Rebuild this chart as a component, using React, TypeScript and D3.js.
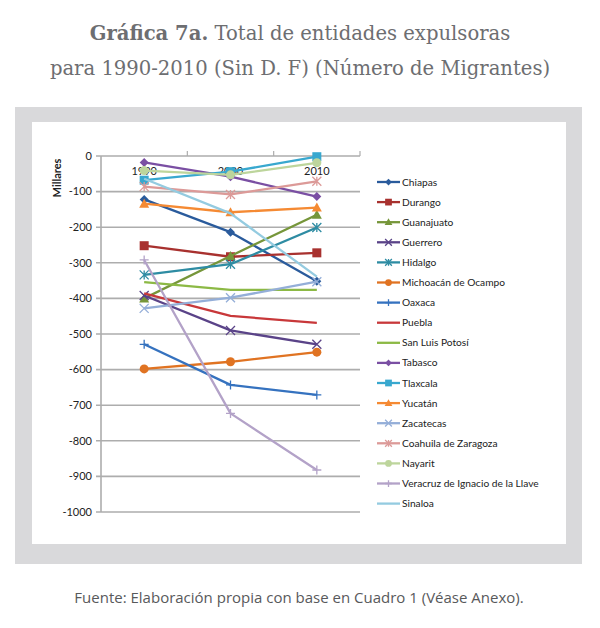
import React from "react";
import * as d3 from "d3";

const categories = ["1990", "2000", "2010"];
const yTicks = [0, -100, -200, -300, -400, -500, -600, -700, -800, -900, -1000];

const seriesNames = [
  "Chiapas", "Durango", "Guanajuato", "Guerrero", "Hidalgo", "Michoacán de Ocampo",
  "Oaxaca", "Puebla", "San Luis Potosí", "Tabasco", "Tlaxcala", "Yucatán",
  "Zacatecas", "Coahuila de Zaragoza", "Nayarit", "Veracruz de Ignacio de la Llave", "Sinaloa",
];

const chiapas = [-122, -214, -352];
const durango = [-252, -283, -272];
const guanajuato = [-400, -281, -165];
const guerrero = [-392, -490, -529];
const hidalgo = [-334, -304, -201];
const michoacan = [-598, -578, -551];
const oaxaca = [-529, -643, -671];
const puebla = [-386, -449, -469];
const sanLuis = [-354, -376, -376];
const tabasco = [-18, -58, -114];
const tlaxcala = [-68, -44, -2];
const yucatan = [-134, -158, -145];
const zacatecas = [-428, -398, -353];
const coahuila = [-86, -108, -71];
const nayarit = [-41, -53, -19];
const veracruz = [-292, -723, -882];
const sinaloa = [-64, -161, -339];

const seriesValues = [
  chiapas, durango, guanajuato, guerrero, hidalgo, michoacan, oaxaca, puebla, sanLuis,
  tabasco, tlaxcala, yucatan, zacatecas, coahuila, nayarit, veracruz, sinaloa,
];

const seriesColors = [
  "#2a5b9c", "#a8312f", "#76963a", "#5a4388", "#2e8ca3", "#e07322", "#3572bf", "#c8383a",
  "#8cb945", "#7a4fa3", "#38a8cf", "#f58a33", "#94aed8", "#dc9a98", "#bdd59c", "#b3a2c8", "#94cbe0",
];

const seriesMarkers = [
  "diamond", "square", "triangle", "x", "star", "circle", "plus", "none", "none",
  "diamond", "square", "triangle", "x", "star", "circle", "plus", "none",
];

function Marker({ type, x, y, color, s = 1 }: { type: string; x: number; y: number; color: string; s?: number }) {
  const r = 4.5 * s;
  switch (type) {
    case "diamond":
      return <path d={`M${x},${y - r}L${x + r},${y}L${x},${y + r}L${x - r},${y}Z`} fill={color} />;
    case "square":
      return <rect x={x - r} y={y - r} width={2 * r} height={2 * r} fill={color} />;
    case "triangle":
      return <path d={`M${x},${y - r - 0.5}L${x + r + 0.5},${y + r - 0.5}L${x - r - 0.5},${y + r - 0.5}Z`} fill={color} />;
    case "circle":
      return <circle cx={x} cy={y} r={r} fill={color} />;
    case "x":
      return (
        <path d={`M${x - r},${y - r}L${x + r},${y + r}M${x - r},${y + r}L${x + r},${y - r}`} stroke={color} strokeWidth={1.3} fill="none" />
      );
    case "star":
      return (
        <path
          d={`M${x - r},${y - r}L${x + r},${y + r}M${x - r},${y + r}L${x + r},${y - r}M${x},${y - r}L${x},${y + r}`}
          stroke={color}
          strokeWidth={1.3}
          fill="none"
        />
      );
    case "plus":
      return (
        <path d={`M${x - r},${y}L${x + r},${y}M${x},${y - r}L${x},${y + r}`} stroke={color} strokeWidth={1.3} fill="none" />
      );
    default:
      return null;
  }
}

export default function App() {
  const W = 600;
  const H = 628;
  const x = d3.scaleBand<string>().domain(categories).range([101, 360]);
  const y = d3.scaleLinear().domain([-1000, 0]).range([512, 156]);
  const cx = (c: string) => (x(c) as number) + x.bandwidth() / 2;
  const line = d3
    .line<number>()
    .x((_, i) => cx(categories[i]))
    .y((d) => y(d));

  const chartFont = "Lato, 'Open Sans', sans-serif";
  const gridColor = "#adadad";
  const titleFont = "'DejaVu Serif', 'Liberation Serif', serif";

  return (
    <svg width={W} height={H} style={{ position: "absolute", left: 0, top: 0, background: "#fff" }}>
      {/* Title */}
      <text x={300} y={40} textAnchor="middle" fontFamily={titleFont} fontSize={19.6} fill="#6d6e71">
        <tspan fontWeight="bold">Gráfica 7a.</tspan> Total de entidades expulsoras
      </text>
      <text x={300} y={75} textAnchor="middle" fontFamily={titleFont} fontSize={19.6} fill="#6d6e71">
        para 1990-2010 (Sin D. F) (Número de Migrantes)
      </text>

      {/* Frame */}
      <rect x={15} y={107} width={567} height={457} fill="#d9d9db" />
      <rect x={32} y={122} width={534} height={422} fill="#ffffff" />

      {/* Grid */}
      {yTicks.map((t) => (
        <g key={t}>
          <line x1={96} x2={360} y1={y(t)} y2={y(t)} stroke={gridColor} strokeWidth={1.6} />
          <text x={92} y={y(t)} dy="0.35em" textAnchor="end" fontFamily={chartFont} fontSize={11} fill="#222">
            {t}
          </text>
        </g>
      ))}
      <line x1={101} x2={101} y1={156} y2={512} stroke={gridColor} strokeWidth={1.6} />
      {categories.map((c) => (
        <line key={"xt" + c} x1={(x(c) as number) + x.bandwidth()} x2={(x(c) as number) + x.bandwidth()} y1={156} y2={151} stroke={gridColor} strokeWidth={1.2} />
      ))}
      {categories.map((c) => (
        <text key={c} x={cx(c)} y={175} textAnchor="middle" fontFamily={chartFont} fontSize={11} fill="#222">
          {c}
        </text>
      ))}
      <text
        transform={`translate(61,178) rotate(-90)`}
        textAnchor="middle"
        fontFamily={chartFont}
        fontWeight="bold"
        fontSize={11}
        fill="#222"
      >
        Millares
      </text>

      {/* Series */}
      {seriesValues.map((vals, si) => (
        <g key={seriesNames[si]}>
          <path d={line(vals) as string} fill="none" stroke={seriesColors[si]} strokeWidth={2.3} strokeLinejoin="round" />
          {vals.map((v, i) => (
            <Marker key={i} type={seriesMarkers[si]} x={cx(categories[i])} y={y(v)} color={seriesColors[si]} />
          ))}
        </g>
      ))}

      {/* Legend */}
      {seriesNames.map((n, i) => {
        const ly = 182 + i * 20.1;
        return (
          <g key={"lg" + n}>
            <line x1={377} x2={400} y1={ly} y2={ly} stroke={seriesColors[i]} strokeWidth={2.3} />
            <Marker type={seriesMarkers[i]} x={388.5} y={ly} color={seriesColors[i]} s={0.75} />
            <text x={402} y={ly} dy="0.35em" fontFamily={chartFont} fontSize={10.2} fill="#222">
              {n}
            </text>
          </g>
        );
      })}

      {/* Footer */}
      <text x={299} y={603} textAnchor="middle" fontFamily="'Open Sans', sans-serif" fontSize={15} fill="#58595b">
        Fuente: Elaboración propia con base en Cuadro 1 (Véase Anexo).
      </text>
    </svg>
  );
}
